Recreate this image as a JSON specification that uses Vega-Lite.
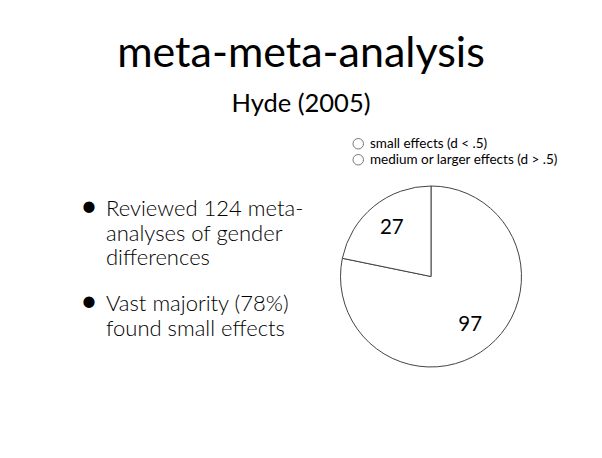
{
  "$schema": "https://vega.github.io/schema/vega-lite/v6.json",
  "background": "white",
  "padding": {"top": 33, "left": 0, "right": 0, "bottom": 0},
  "bounds": "flush",
  "spacing": 0,
  "title": {
    "text": "meta-meta-analysis",
    "subtitle": "Hyde (2005)",
    "anchor": "middle",
    "font": "Lato",
    "fontSize": 43,
    "fontWeight": "normal",
    "color": "black",
    "subtitleFont": "Lato",
    "subtitleFontSize": 25.5,
    "subtitleColor": "black",
    "subtitlePadding": 16,
    "offset": 19.5
  },
  "config": {"view": {"stroke": null}},
  "datasets": {
    "bullets": [
      {"bullet": "1", "line": 0, "text": "Reviewed 124 meta-"},
      {"bullet": "1", "line": 1, "text": "analyses of gender"},
      {"bullet": "1", "line": 2, "text": "differences"},
      {"bullet": "2", "line": 0, "text": "Vast majority (78%)"},
      {"bullet": "2", "line": 1, "text": "found small effects"}
    ],
    "effects": [
      {"effect": "small effects (d < .5)", "count": 97},
      {"effect": "medium or larger effects (d > .5)", "count": 27}
    ]
  },
  "hconcat": [
    {
      "width": 260,
      "height": 190,
      "data": {"name": "bullets"},
      "encoding": {
        "y": {"field": "bullet", "type": "nominal", "scale": {"type": "band", "paddingInner": 0, "paddingOuter": 0}, "axis": null},
        "yOffset": {"field": "line", "type": "ordinal", "scale": {"type": "point", "padding": 0.979}}
      },
      "layer": [
        {
          "mark": {"type": "text", "align": "left", "baseline": "alphabetic", "dx": -24, "font": "Lato", "fontSize": 22, "fontWeight": 300, "color": "black"},
          "encoding": {"text": {"field": "text", "type": "nominal"}}
        },
        {
          "transform": [{"filter": "datum.line == 0"}],
          "mark": {"type": "text", "text": "•", "align": "center", "baseline": "alphabetic", "dx": -41, "font": "Lato", "fontSize": 30, "color": "black"}
        }
      ]
    },
    {
      "width": 342,
      "height": 167,
      "data": {"name": "effects"},
      "encoding": {
        "theta": {"field": "count", "type": "quantitative", "stack": true},
        "order": {"field": "count", "type": "quantitative", "sort": "descending"}
      },
      "layer": [
        {
          "mark": {"type": "arc", "outerRadius": 90.5, "stroke": "#444", "strokeWidth": 1},
          "encoding": {
            "fill": {
              "field": "effect",
              "type": "nominal",
              "scale": {"domain": ["small effects (d < .5)", "medium or larger effects (d > .5)"], "range": ["white", "white"]},
              "legend": {
                "orient": "none",
                "legendX": 351.5,
                "legendY": -56,
                "title": null,
                "padding": 0,
                "symbolType": "circle",
                "symbolSize": 110,
                "symbolFillColor": "white",
                "symbolStrokeColor": "#777",
                "symbolStrokeWidth": 1,
                "labelFont": "Lato",
                "labelFontSize": 13.5,
                "labelColor": "black",
                "labelOffset": 5,
                "labelLimit": 0,
                "rowPadding": 1
              }
            }
          }
        },
        {
          "mark": {"type": "text", "radius": 62, "font": "Lato", "fontSize": 20.5, "color": "black"},
          "encoding": {"text": {"field": "count", "type": "quantitative"}}
        }
      ]
    }
  ]
}
